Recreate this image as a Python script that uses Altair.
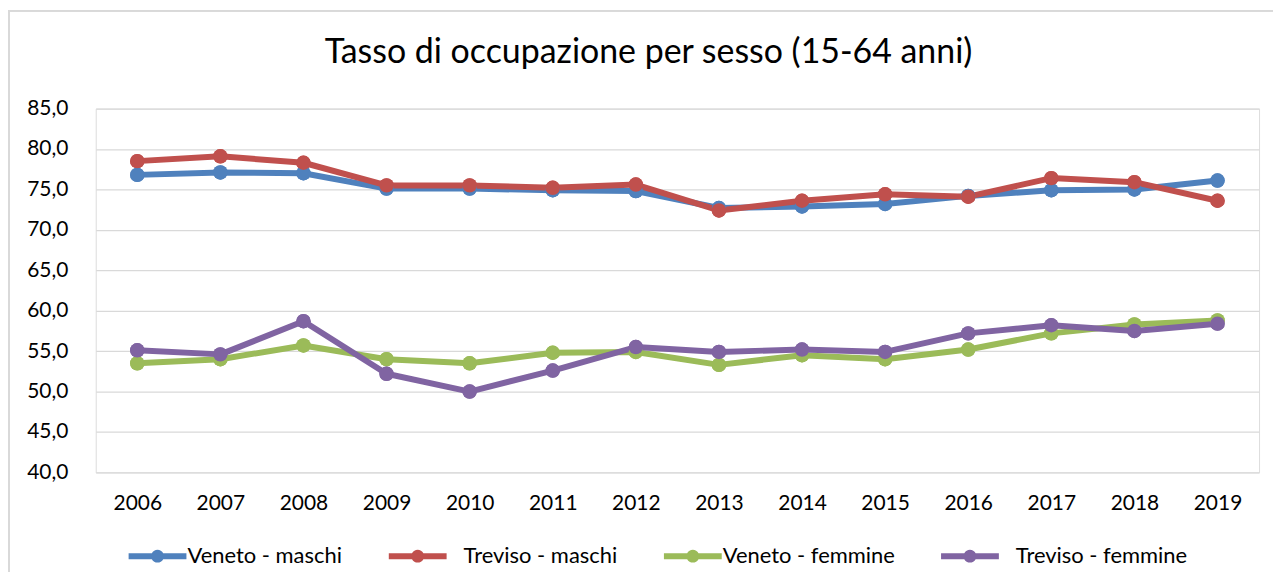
import altair as alt
import pandas as pd

years = ["2006", "2007", "2008", "2009", "2010", "2011", "2012",
         "2013", "2014", "2015", "2016", "2017", "2018", "2019"]

series_names = ["Veneto - maschi", "Treviso - maschi", "Veneto - femmine", "Treviso - femmine"]
series_colors = ["#4F81BD", "#C0504D", "#9BBB59", "#8064A2"]

veneto_maschi = [76.8, 77.1, 77.0, 75.1, 75.1, 74.9, 74.8, 72.7, 72.9, 73.2, 74.2, 74.9, 75.0, 76.1]
treviso_maschi = [78.5, 79.1, 78.3, 75.5, 75.5, 75.2, 75.6, 72.4, 73.6, 74.4, 74.1, 76.4, 75.9, 73.6]
veneto_femmine = [53.5, 54.0, 55.7, 54.0, 53.5, 54.8, 54.9, 53.3, 54.5, 54.0, 55.2, 57.2, 58.3, 58.8]
treviso_femmine = [55.1, 54.6, 58.7, 52.2, 50.0, 52.6, 55.5, 54.9, 55.2, 54.9, 57.2, 58.2, 57.5, 58.4]

y_ticks = [40, 45, 50, 55, 60, 65, 70, 75, 80, 85]

rows = []
for name, vals in zip(series_names,
                      [veneto_maschi, treviso_maschi, veneto_femmine, treviso_femmine]):
    for yr, v in zip(years, vals):
        rows.append({"Anno": yr, "Serie": name, "Valore": v})
df = pd.DataFrame(rows)

FONT = "Lato"

# legend symbol: a short thick line with a round marker in the middle
legend_symbol = ("M-4.833,-0.5L-0.95,-0.5A1.083,1.083,0,0,1,0.95,-0.5"
                 "L4.833,-0.5L4.833,0.5L0.95,0.5A1.083,1.083,0,0,1,-0.95,0.5"
                 "L-4.833,0.5Z")

color_scale = alt.Scale(domain=series_names, range=series_colors)

legend = alt.Legend(
    title=None, orient="none", direction="horizontal", columns=4,
    legendX=51, legendY=438,
    symbolType=legend_symbol, symbolSize=144, symbolStrokeWidth=0,
    symbolOpacity=1,
    labelFont=FONT, labelFontSize=22, labelColor="#000000",
    labelOffset=19, columnPadding=46, labelLimit=400,
    labelExpr="(slice(datum.label, 0, 7) == 'Treviso' ? '\\u2800' : '') + datum.label",
)

color_enc = alt.Color("Serie:N", scale=color_scale, sort=series_names, legend=legend)

x_enc = alt.X("Anno:O", sort=years, title=None,
              axis=alt.Axis(labelAngle=0, ticks=False, domain=False, grid=False,
                            labelFont=FONT, labelFontSize=21, labelColor="#000000",
                            labelPadding=20))
y_enc = alt.Y("Valore:Q", title=None,
              scale=alt.Scale(domain=[40, 85], nice=False, zero=False),
              axis=alt.Axis(values=y_ticks, ticks=False, domain=False, grid=True,
                            gridColor="#D9D9D9", gridWidth=1.2,
                            labelFont=FONT, labelFontSize=21, labelColor="#000000",
                            labelPadding=28,
                            labelExpr="replace(format(datum.value, '.1f'), '.', ',')"))

points = alt.Chart(df).mark_point(filled=True, opacity=1, size=210, shape="circle").encode(
    x=x_enc, y=y_enc, color=color_enc,
)

lines = alt.Chart(df).mark_line(strokeWidth=6, strokeJoin="round", strokeCap="round").encode(
    x=x_enc, y=y_enc, color=color_enc, detail="Serie:N",
)

frame = alt.Chart(df).mark_rect(fill=None, stroke="#D9D9D9", strokeWidth=1.3).encode(
    x=alt.value(-87), x2=alt.value(1200), y=alt.value(-98), y2=alt.value(520)
)

chart = alt.layer(frame, points, lines, points).properties(
    width=1167,
    height=365,
    title=alt.TitleParams("Tasso di occupazione per sesso (15-64 anni)",
                          font=FONT, fontSize=34, fontWeight="normal", color="#000000",
                          anchor="middle", baseline="alphabetic", offset=-87, dx=-29,
                          frame="group"),
    autosize=alt.AutoSizeParams(type="none"),
    padding={"left": 88, "top": 100, "right": 14, "bottom": 99},
).configure_view(stroke=None).configure(background="white")

chart.save("out.html", embed_options={"renderer": "svg", "actions": False})
